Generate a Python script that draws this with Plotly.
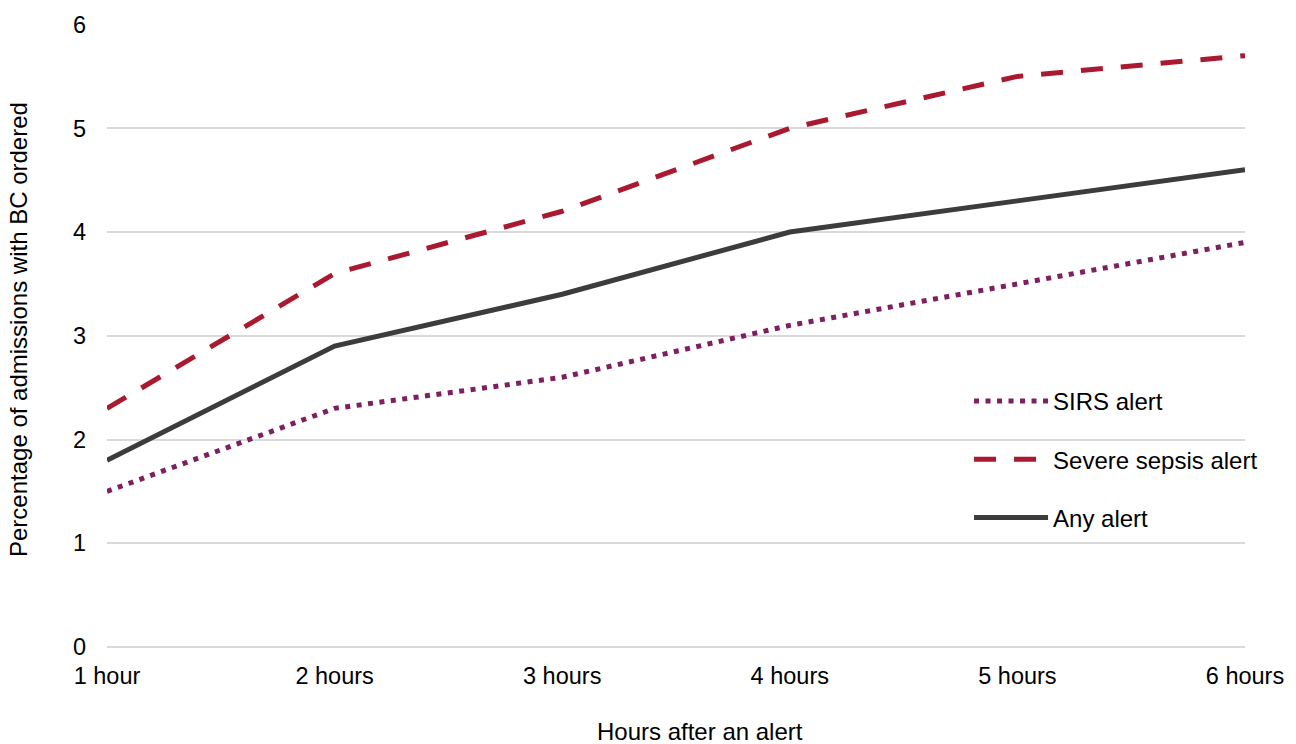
import plotly.graph_objects as go

hours = ["1 hour", "2 hours", "3 hours", "4 hours", "5 hours", "6 hours"]
sirs_alert = [1.5, 2.3, 2.6, 3.1, 3.5, 3.9]
severe_sepsis_alert = [2.3, 3.6, 4.2, 5.0, 5.5, 5.7]
any_alert = [1.8, 2.9, 3.4, 4.0, 4.3, 4.6]

fig = go.Figure()
fig.add_trace(go.Scatter(x=hours, y=sirs_alert, mode="lines", name="SIRS alert",
                         legendgroup="a",
                         line=dict(color="#7E1F60", width=5, dash="5px,6.5px")))
fig.add_trace(go.Scatter(x=hours, y=severe_sepsis_alert, mode="lines", name="Severe sepsis alert",
                         legendgroup="b",
                         line=dict(color="#A91A30", width=5, dash="22px,18px")))
fig.add_trace(go.Scatter(x=hours, y=any_alert, mode="lines", name="Any alert",
                         legendgroup="c",
                         line=dict(color="#3B3C3B", width=5)))

font = "Liberation Sans, Arial, sans-serif"
fig.update_layout(
    width=1296, height=744,
    margin=dict(l=107, r=51, t=24, b=97, autoexpand=False),
    plot_bgcolor="white", paper_bgcolor="white",
    font=dict(family=font, size=24, color="#000000"),
    xaxis=dict(type="category", range=[0, 5], showgrid=False, showline=False,
               zeroline=False, ticks="", tickfont=dict(size=23.5),
               ticklabelstandoff=12, automargin=False),
    yaxis=dict(range=[0, 6.005], dtick=1, showgrid=True, gridcolor="#D9D9D9", gridwidth=2,
               zeroline=True, zerolinecolor="#D9D9D9", zerolinewidth=2,
               showline=False, ticks="", tickfont=dict(size=23.5),
               ticklabelstandoff=20, automargin=False),
    legend=dict(x=0.7575, y=0.4302, xanchor="left", yanchor="top", bgcolor="rgba(0,0,0,0)",
                font=dict(size=24), tracegroupgap=24, itemwidth=74, traceorder="grouped"),
    showlegend=True,
    annotations=[
        dict(text="Hours after an alert", xref="paper", yref="paper", x=0.521, y=0,
             xanchor="center", yanchor="middle", yshift=-84, showarrow=False,
             borderpad=0, font=dict(size=24)),
        dict(text="Percentage of admissions with BC ordered", xref="paper", yref="paper",
             x=-0.0782, y=0.5088, xanchor="center", yanchor="middle", textangle=-90,
             showarrow=False, borderpad=0, font=dict(size=24)),
    ],
)
fig.write_html("out.html", config={"displayModeBar": False},
               post_script="document.body.style.margin='0';")
